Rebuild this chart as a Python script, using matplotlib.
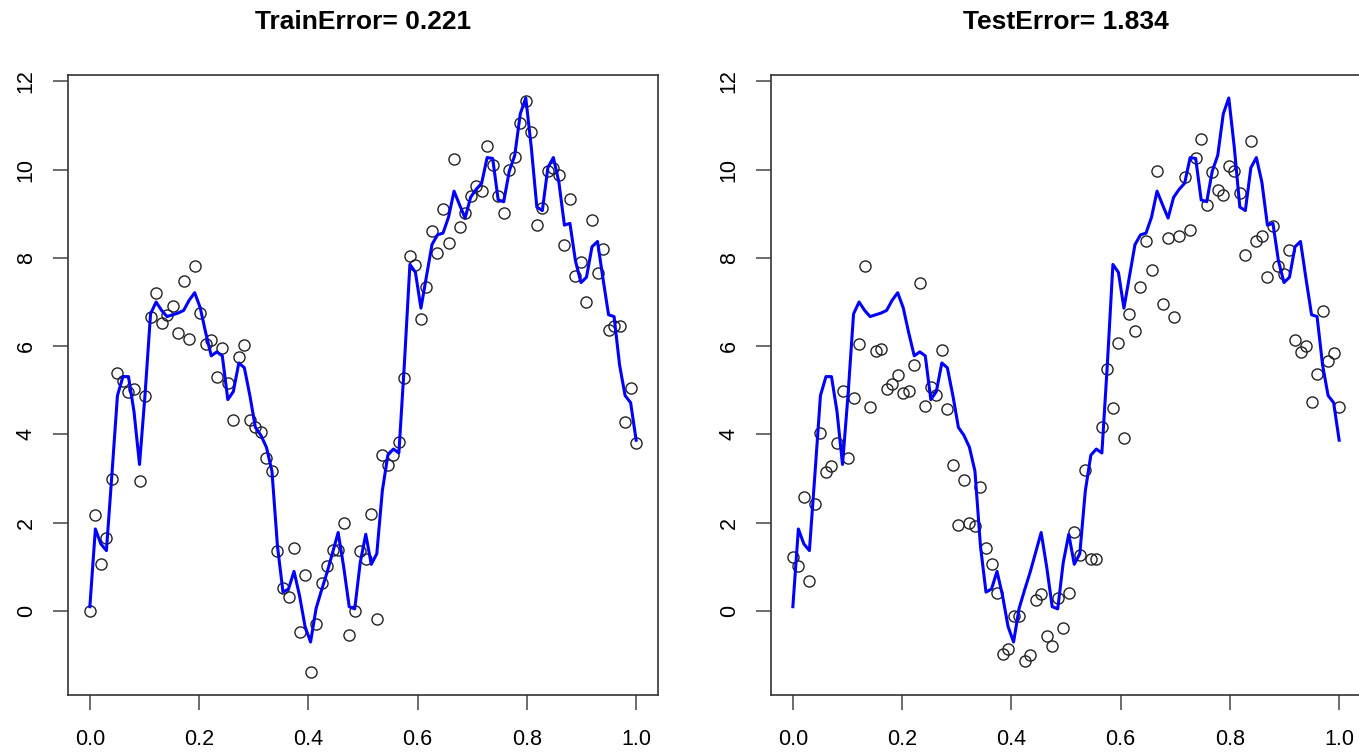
import numpy as np
import matplotlib
matplotlib.use("Agg")
import matplotlib.pyplot as plt

plt.rcParams.update({
    "font.family": ["Liberation Sans", "DejaVu Sans"],
})

# 100 inputs on [0, 1]; train and test share the same x grid
n_points = 100

train_y = [
    0.00, 2.17, 1.07, 1.65, 3.00, 5.40, 5.21, 4.97, 5.02, 2.94,
    4.86, 6.67, 7.21, 6.53, 6.71, 6.91, 6.30, 7.48, 6.17, 7.82,
    6.74, 6.04, 6.14, 5.31, 5.96, 5.17, 4.32, 5.76, 6.02, 4.32,
    4.16, 4.05, 3.46, 3.17, 1.35, 0.52, 0.33, 1.44, -0.47, 0.82,
    -1.38, -0.29, 0.64, 1.02, 1.39, 1.38, 1.99, -0.54, 0.00, 1.35,
    1.17, 2.20, -0.18, 3.53, 3.31, 3.53, 3.82, 5.27, 8.03, 7.83,
    6.61, 7.33, 8.61, 8.11, 9.10, 8.34, 10.24, 8.69, 9.01, 9.39,
    9.62, 9.51, 10.54, 10.11, 9.40, 9.02, 10.00, 10.28, 11.05, 11.56,
    10.85, 8.74, 9.12, 9.97, 10.04, 9.88, 8.28, 9.33, 7.58, 7.91,
    7.00, 8.86, 7.66, 8.20, 6.36, 6.45, 6.45, 4.28, 5.05, 3.80,
]

test_y = [
    1.23, 1.01, 2.59, 0.68, 2.43, 4.03, 3.16, 3.29, 3.81, 4.99,
    3.46, 4.83, 6.05, 7.81, 4.63, 5.88, 5.94, 5.02, 5.15, 5.35,
    4.94, 4.99, 5.57, 7.44, 4.65, 5.08, 4.90, 5.91, 4.58, 3.31,
    1.96, 2.97, 1.99, 1.93, 2.81, 1.44, 1.06, 0.42, -0.98, -0.85,
    -0.12, -0.12, -1.14, -1.00, 0.25, 0.39, -0.56, -0.78, 0.30, -0.38,
    0.42, 1.80, 1.26, 3.20, 1.18, 1.18, 4.16, 5.48, 4.61, 6.07,
    3.92, 6.72, 6.34, 7.33, 8.38, 7.73, 9.97, 6.95, 8.46, 6.65,
    8.49, 9.82, 8.63, 10.27, 10.68, 9.19, 9.94, 9.53, 9.43, 10.08,
    9.97, 9.47, 8.07, 10.64, 8.37, 8.50, 7.56, 8.72, 7.81, 7.64,
    8.17, 6.14, 5.86, 6.00, 4.74, 5.37, 6.79, 5.66, 5.84, 4.63,
]

fit_y = [
    0.10, 1.86, 1.52, 1.37, 3.10, 4.88, 5.31, 5.31, 4.52, 3.32,
    4.90, 6.73, 7.00, 6.81, 6.67, 6.71, 6.75, 6.81, 7.04, 7.21,
    6.87, 6.30, 5.78, 5.87, 5.78, 4.79, 4.97, 5.62, 5.51, 4.88,
    4.16, 3.98, 3.71, 3.17, 1.47, 0.43, 0.50, 0.90, 0.35, -0.35,
    -0.70, 0.06, 0.48, 0.88, 1.33, 1.78, 1.00, 0.10, 0.05, 1.10,
    1.74, 1.06, 1.30, 2.72, 3.53, 3.67, 3.58, 5.60, 7.85, 7.67,
    6.86, 7.58, 8.30, 8.52, 8.56, 8.92, 9.51, 9.20, 8.90, 9.37,
    9.55, 9.69, 10.27, 10.25, 9.31, 9.27, 9.96, 10.32, 11.26, 11.62,
    10.50, 9.15, 9.07, 10.04, 10.27, 9.71, 8.74, 8.78, 7.93, 7.44,
    7.56, 8.25, 8.37, 7.52, 6.71, 6.67, 5.57, 4.88, 4.72, 3.87,
]

train_error = 0.221
test_error = 1.834

x = np.linspace(0, 1, n_points)


def r_style(ax, title, ys):
    # R-like 4% padding around the data range
    xpad = 0.04
    ax.set_xlim(-xpad, 1 + xpad)
    lo, hi = min(ys), max(ys)
    pad = 0.04 * (hi - lo)
    ax.set_ylim(lo - pad, hi + pad)
    ax.set_xticks(np.arange(0, 1.01, 0.2))
    ax.set_xticklabels([f"{t:.1f}" for t in np.arange(0, 1.01, 0.2)])
    ax.set_yticks(np.arange(0, 13, 2))
    for lab in ax.get_yticklabels():
        lab.set_rotation(90)
        lab.set_va("center")
    ax.tick_params(direction="out", length=10.5, width=1.1, color="#444444",
                   labelsize=15.5, pad=14)
    ax.tick_params(axis="y", pad=12)
    for sp in ax.spines.values():
        sp.set_linewidth(1.2)
        sp.set_color("#333333")
    ax.set_title(title, fontsize=19, fontweight="bold", pad=33)


fig = plt.figure(figsize=(13.59, 7.52), dpi=100)
ax1 = fig.add_axes([68 / 1359, 57 / 752, 590 / 1359, 620 / 752])
ax2 = fig.add_axes([771 / 1359, 57 / 752, 590 / 1359, 620 / 752])

for ax, pts, title in [(ax1, train_y, f"TrainError= {train_error}"),
                       (ax2, test_y, f"TestError= {test_error}")]:
    ax.plot(x, pts, "o", mfc="none", mec="#222222", ms=8, mew=1.0)
    ax.plot(x, fit_y, color="#0000ff", lw=2.2)
    r_style(ax, title, train_y + fit_y)

fig.savefig("out.png", dpi=100)
